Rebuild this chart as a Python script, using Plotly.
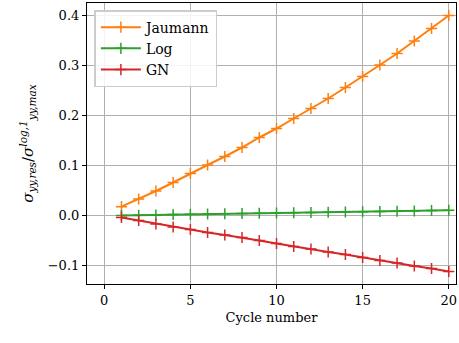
import plotly.graph_objects as go

cycles = list(range(1, 21))
jaumann = [0.0167, 0.032, 0.048, 0.065, 0.083, 0.100, 0.117, 0.135, 0.155, 0.173,
           0.193, 0.213, 0.233, 0.255, 0.277, 0.300, 0.323, 0.348, 0.373, 0.399]
log_ = [-0.001, -0.0005, 0.0, 0.001, 0.0015, 0.002, 0.0025, 0.003, 0.0035, 0.004,
        0.0045, 0.005, 0.0055, 0.006, 0.0065, 0.007, 0.0075, 0.008, 0.009, 0.0095]
gn = [-0.005, -0.011, -0.018, -0.024, -0.029, -0.035, -0.040, -0.045, -0.051, -0.057,
      -0.063, -0.068, -0.074, -0.079, -0.085, -0.091, -0.096, -0.102, -0.107, -0.113]

series = [("Jaumann", jaumann, "#ff7f0e"), ("Log", log_, "#2ca02c"), ("GN", gn, "#d62728")]
font = "DejaVu Serif, Liberation Serif, serif"

fig = go.Figure()
for name, vals, col in series:
    fig.add_trace(go.Scatter(
        x=cycles, y=vals, name=name, mode="lines+markers",
        line=dict(color=col, width=2),
        marker=dict(symbol="cross-thin", size=8, line=dict(color=col, width=1.5)),
    ))

axis_common = dict(
    showline=True, linecolor="black", linewidth=1.2, mirror=True,
    ticks="outside", ticklen=4, tickcolor="black",
    showgrid=True, gridcolor="#b0b0b0", gridwidth=1, zeroline=False,
    tickfont=dict(family=font, size=13, color="black"),
)
fig.update_xaxes(range=[-1.0, 20.42], tickvals=[0, 5, 10, 15, 20],
                 title=dict(text="Cycle number", font=dict(family=font, size=13, color="black"), standoff=6),
                 **axis_common)
fig.update_yaxes(range=[-0.138, 0.424], tickvals=[-0.1, 0.0, 0.1, 0.2, 0.3, 0.4],
                 ticktext=["\u22120.1", "0.0", "0.1", "0.2", "0.3", "0.4"],
                 title=dict(text="<i>σ<sub>yy,res</sub></i>/<i>σ<sup>log,1</sup><sub>yy,max</sub></i>",
                            font=dict(family=font, size=15, color="black"), standoff=10),
                 **axis_common)
fig.update_layout(
    width=459, height=343,
    margin=dict(l=87, r=3, t=3, b=59),
    plot_bgcolor="white", paper_bgcolor="white",
    font=dict(family=font, size=13, color="black"),
    showlegend=True,
    legend=dict(x=0.02, y=0.975, xanchor="left", yanchor="top",
                bgcolor="rgba(255,255,255,0.85)", bordercolor="#cccccc", borderwidth=1.5,
                font=dict(family=font, size=14, color="black"), tracegroupgap=0, itemwidth=40),
)
fig.write_html("out.html")
